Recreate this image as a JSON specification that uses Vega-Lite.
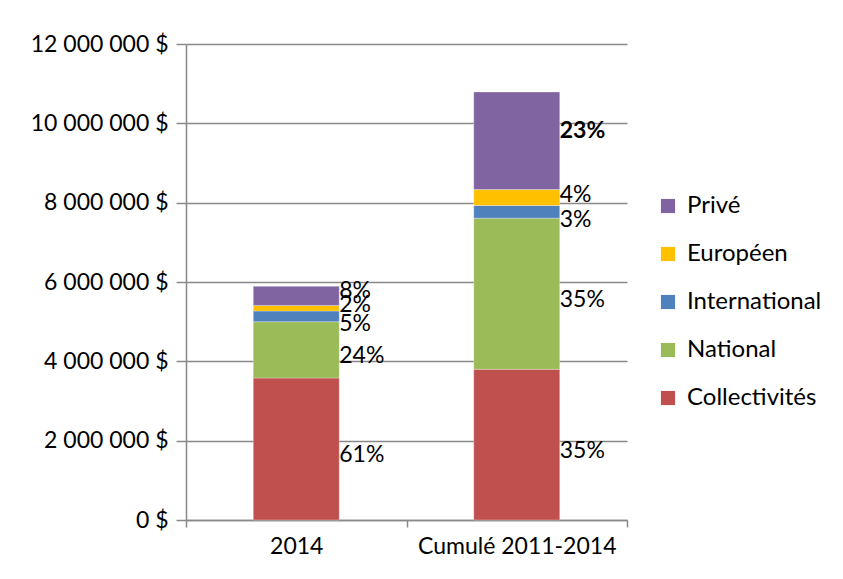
{
  "$schema": "https://vega.github.io/schema/vega-lite/v6.json",
  "width": 441,
  "height": 476,
  "autosize": {"type": "none"},
  "padding": {"left": 186, "top": 44, "right": 216, "bottom": 59},
  "background": "white",
  "config": {
    "font": "Lato",
    "view": {"stroke": null},
    "axis": {"labelFont": "Lato", "labelFontSize": 23, "labelColor": "#000000"}
  },
  "data": {
    "values": [
      {"categorie": "2014", "source": "Collectivités", "rang": 1, "montant": 3580000},
      {"categorie": "2014", "source": "National", "rang": 2, "montant": 1420000},
      {"categorie": "2014", "source": "International", "rang": 3, "montant": 270000},
      {"categorie": "2014", "source": "Européen", "rang": 4, "montant": 140000},
      {"categorie": "2014", "source": "Privé", "rang": 5, "montant": 480000},
      {"categorie": "Cumulé 2011-2014", "source": "Collectivités", "rang": 1, "montant": 3800000},
      {"categorie": "Cumulé 2011-2014", "source": "National", "rang": 2, "montant": 3810000},
      {"categorie": "Cumulé 2011-2014", "source": "International", "rang": 3, "montant": 320000},
      {"categorie": "Cumulé 2011-2014", "source": "Européen", "rang": 4, "montant": 400000},
      {"categorie": "Cumulé 2011-2014", "source": "Privé", "rang": 5, "montant": 2460000}
    ]
  },
  "transform": [
    {"stack": "montant", "groupby": ["categorie"], "sort": [{"field": "rang", "order": "ascending"}], "as": ["bas", "haut"]},
    {"joinaggregate": [{"op": "sum", "field": "montant", "as": "total"}], "groupby": ["categorie"]},
    {"calculate": "datum.montant / datum.total", "as": "part"},
    {"calculate": "(datum.bas + datum.haut) / 2", "as": "milieu"}
  ],
  "encoding": {
    "x": {
      "field": "categorie",
      "type": "nominal",
      "scale": {"paddingInner": 0, "paddingOuter": 0},
      "axis": {
        "title": null,
        "labelAngle": 0,
        "labelFont": "Lato",
        "labelFontSize": 23,
        "labelLimit": 300,
        "tickBand": "extent",
        "domainColor": "#898989",
        "domainWidth": 1.5,
        "tickColor": "#898989",
        "tickWidth": 1.5,
        "tickSize": 7,
        "labelPadding": 8,
        "grid": false
      }
    }
  },
  "layer": [
    {
      "mark": {"type": "bar", "width": {"band": 0.39}, "stroke": "white", "strokeWidth": 0.5, "strokeOpacity": 0.6},
      "encoding": {
        "y": {
          "field": "bas",
          "type": "quantitative",
          "scale": {"domain": [0, 12000000], "nice": false},
          "axis": {
            "title": null,
            "values": [0, 2000000, 4000000, 6000000, 8000000, 10000000, 12000000],
            "labelExpr": "replace(format(datum.value, ','), regexp(',', 'g'), ' ') + ' $'",
            "grid": true,
            "gridColor": "#898989",
            "gridWidth": 1.5,
            "domainColor": "#898989",
            "domainWidth": 1.5,
            "tickColor": "#898989",
            "tickWidth": 1.5,
            "tickSize": 10,
            "labelPadding": 8
          }
        },
        "y2": {"field": "haut"},
        "color": {
          "field": "source",
          "type": "nominal",
          "scale": {
            "domain": ["Privé", "Européen", "International", "National", "Collectivités"],
            "range": ["#8064A2", "#FFC000", "#4F81BD", "#9BBB59", "#C0504D"]
          },
          "legend": {
            "title": null,
            "orient": "none",
            "legendX": 470,
            "legendY": 150,
            "symbolType": "square",
            "symbolSize": 200,
            "symbolStrokeWidth": 0,
            "labelFont": "Lato",
            "labelFontSize": 24,
            "labelColor": "#000000",
            "labelOffset": 7,
            "rowPadding": 24,
            "labelLimit": 300
          }
        }
      }
    },
    {
      "transform": [{"filter": "datum.source == 'Collectivités' || datum.source == 'National'"}],
      "mark": {"type": "text", "align": "left", "baseline": "middle", "dx": 43, "dy": 6, "fontSize": 23, "font": "Lato", "color": "#000000"},
      "encoding": {
        "y": {"field": "milieu", "type": "quantitative"},
        "text": {"field": "part", "type": "quantitative", "format": ".0%"}
      }
    },
    {
      "transform": [{"filter": "datum.source == 'International'"}],
      "mark": {"type": "text", "align": "left", "baseline": "middle", "dx": 43, "dy": 8, "fontSize": 23, "font": "Lato", "color": "#000000"},
      "encoding": {
        "y": {"field": "milieu", "type": "quantitative"},
        "text": {"field": "part", "type": "quantitative", "format": ".0%"}
      }
    },
    {
      "transform": [{"filter": "datum.source == 'Européen'"}],
      "mark": {"type": "text", "align": "left", "baseline": "middle", "dx": 43, "dy": -3, "fontSize": 23, "font": "Lato", "color": "#000000"},
      "encoding": {
        "y": {"field": "milieu", "type": "quantitative"},
        "text": {"field": "part", "type": "quantitative", "format": ".0%"}
      }
    },
    {
      "transform": [{"filter": "datum.source == 'Privé' && datum.categorie == '2014'"}],
      "mark": {"type": "text", "align": "left", "baseline": "middle", "dx": 43, "dy": -5, "fontSize": 23, "font": "Lato", "color": "#000000"},
      "encoding": {
        "y": {"field": "milieu", "type": "quantitative"},
        "text": {"field": "part", "type": "quantitative", "format": ".0%"}
      }
    },
    {
      "transform": [{"filter": "datum.source == 'Privé' && datum.categorie == 'Cumulé 2011-2014'"}],
      "mark": {"type": "text", "align": "left", "baseline": "middle", "dx": 43, "dy": -10, "fontSize": 23, "font": "Lato", "fontWeight": "bold", "color": "#000000"},
      "encoding": {
        "y": {"field": "milieu", "type": "quantitative"},
        "text": {"field": "part", "type": "quantitative", "format": ".0%"}
      }
    }
  ]
}
